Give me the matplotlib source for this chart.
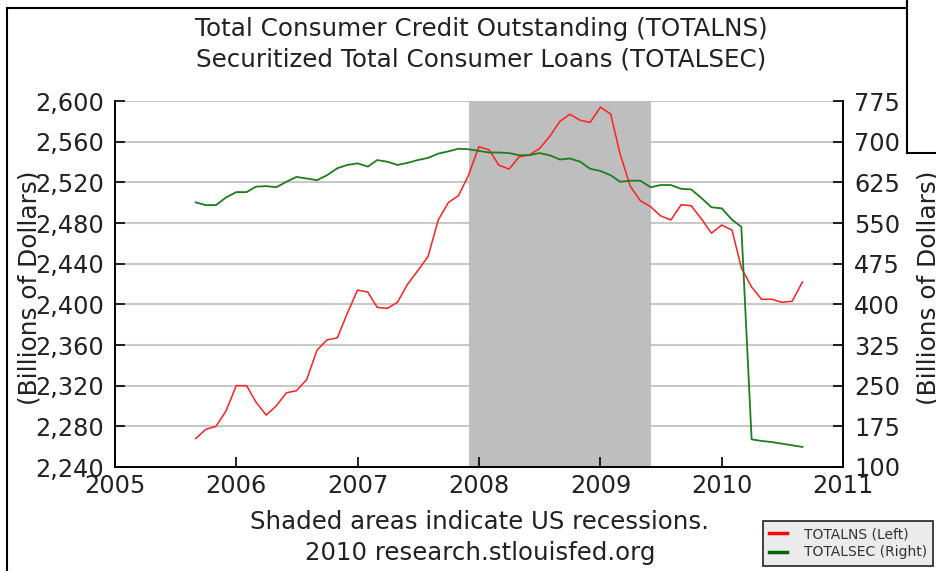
import matplotlib
matplotlib.use('Agg')
import matplotlib.pyplot as plt
import pandas as pd
from matplotlib.lines import Line2D

W, H = 937, 571

MONTHS = pd.date_range("2005-09-01", "2010-09-01", freq="MS")

# Total consumer credit outstanding, billions (left axis)
TOTALNS = [
    2268, 2277, 2280, 2295, 2320, 2320, 2304, 2291, 2300, 2313,
    2315, 2326, 2355, 2365, 2367, 2391, 2414, 2412, 2397, 2396,
    2402, 2420, 2433, 2447, 2483, 2500, 2507, 2527, 2555, 2552,
    2537, 2533, 2545, 2547, 2553, 2565, 2580, 2587, 2581, 2579,
    2594, 2587, 2548, 2516, 2502, 2496, 2487, 2483, 2498, 2497,
    2484, 2470, 2478, 2473, 2436, 2417, 2405, 2405, 2402, 2403,
    2422,
]

# Securitized total consumer loans, billions (right axis)
TOTALSEC = [
    588, 583, 583, 597, 607, 607, 617, 618, 616, 626,
    635, 632, 629, 638, 651, 657, 660, 654, 666, 663,
    657, 661, 666, 670, 678, 682, 687, 686, 683, 680,
    680, 679, 675, 675, 679, 675, 667, 669, 663, 650,
    646, 638, 626, 628, 628, 616, 620, 620, 613, 612,
    596, 579, 577, 556, 543, 151, 148, 146, 143, 140,
    137,
]

RECESSION = ("2007-12-01", "2009-06-01")
LEFT_TICKS = list(range(2240, 2601, 40))
RIGHT_TICKS = list(range(100, 776, 75))
YEARS = list(range(2005, 2012))

TITLE_LINES = ["Total Consumer Credit Outstanding (TOTALNS)",
               "Securitized Total Consumer Loans (TOTALSEC)"]
NOTE_LINES = ["Shaded areas indicate US recessions.",
              "2010 research.stlouisfed.org"]
YLABEL = "(Billions of Dollars)"

TXT = "#222222"
RED = "#ff2020"
GREEN = "#1e7d1e"


def fx(px):
    return px / W


def fy(py):
    return 1 - py / H


fig = plt.figure(figsize=(W / 100, H / 100), dpi=100)
ax = fig.add_axes([fx(115), fy(467), (843 - 115) / W, (467 - 101) / H])
ax2 = ax.twinx()

# gridlines under the recession band
for v in LEFT_TICKS[1:]:
    ax.axhline(v, color="#c8c8c8", lw=1.5, zorder=0.5)
ax.axvspan(pd.Timestamp(RECESSION[0]), pd.Timestamp(RECESSION[1]),
           color="#bebebe", lw=0, zorder=1)

ax.plot(MONTHS, TOTALNS, color=RED, lw=1.1, zorder=3)
ax2.plot(MONTHS, TOTALSEC, color=GREEN, lw=1.3, zorder=3)

ax.set_xlim(pd.Timestamp("2005-01-01"), pd.Timestamp("2011-01-01"))
ax.set_ylim(LEFT_TICKS[0], LEFT_TICKS[-1])
ax2.set_ylim(RIGHT_TICKS[0], RIGHT_TICKS[-1])

ax.set_xticks([pd.Timestamp(f"{y}-01-01") for y in YEARS])
ax.set_xticklabels([str(y) for y in YEARS])
ax.set_yticks(LEFT_TICKS)
ax.set_yticklabels([f"{v:,}" for v in LEFT_TICKS])
ax2.set_yticks(RIGHT_TICKS)
ax2.set_yticklabels([str(v) for v in RIGHT_TICKS])

for a in (ax, ax2):
    a.spines["top"].set_visible(False)
    for s in a.spines.values():
        s.set_linewidth(1.4)
        s.set_color("black")
ax.spines["right"].set_visible(False)
ax2.spines["left"].set_visible(False)
ax2.spines["bottom"].set_visible(False)

ax.tick_params(axis="x", direction="in", length=7, width=1.2, pad=5,
               labelsize=17.3, labelcolor=TXT)
ax.tick_params(axis="y", direction="in", length=7, width=1.2, pad=8,
               labelsize=17.3, labelcolor=TXT)
ax2.tick_params(axis="y", direction="in", length=7, width=1.2, pad=8,
                labelsize=17.3, labelcolor=TXT)

fig.text(fx(481), fy(29), TITLE_LINES[0], ha="center", va="center", fontsize=17.7, color=TXT)
fig.text(fx(481), fy(60), TITLE_LINES[1], ha="center", va="center", fontsize=17.7, color=TXT)
fig.text(fx(480), fy(522), NOTE_LINES[0], ha="center", va="center", fontsize=17.6, color=TXT)
fig.text(fx(480), fy(553), NOTE_LINES[1], ha="center", va="center", fontsize=17.6, color=TXT)
fig.text(fx(30), fy(288), YLABEL, rotation=90, ha="center", va="center", fontsize=17.8, color=TXT)
fig.text(fx(929), fy(288), YLABEL, rotation=90, ha="center", va="center", fontsize=17.8, color=TXT)

handles = [Line2D([], [], color="red", lw=2.5, label="TOTALNS (Left)"),
           Line2D([], [], color="#006400", lw=2.5, label="TOTALSEC (Right)")]
leg = ax.legend(handles=handles, loc="upper left", bbox_to_anchor=(fx(763), fy(521)),
                bbox_transform=fig.transFigure, fontsize=10, frameon=True,
                fancybox=False, facecolor="#ebebeb", edgecolor="#222222",
                framealpha=1, handlelength=1.3, borderpad=0.45, labelspacing=0.3,
                handletextpad=1.2, borderaxespad=0)
for t in leg.get_texts():
    t.set_color("#333333")
leg.get_frame().set_linewidth(1.2)

# outer frame of the page
frame = dict(transform=fig.transFigure, color="black", lw=1.5)
fig.add_artist(Line2D([fx(7), fx(7)], [0, fy(8)], **frame))
fig.add_artist(Line2D([fx(7), fx(907)], [fy(8), fy(8)], **frame))
fig.add_artist(Line2D([fx(907), fx(907)], [1, fy(153)], **frame))
fig.add_artist(Line2D([fx(907), 1], [fy(153), fy(153)], **frame))

fig.savefig("out.png", dpi=100)
plt.close(fig)
